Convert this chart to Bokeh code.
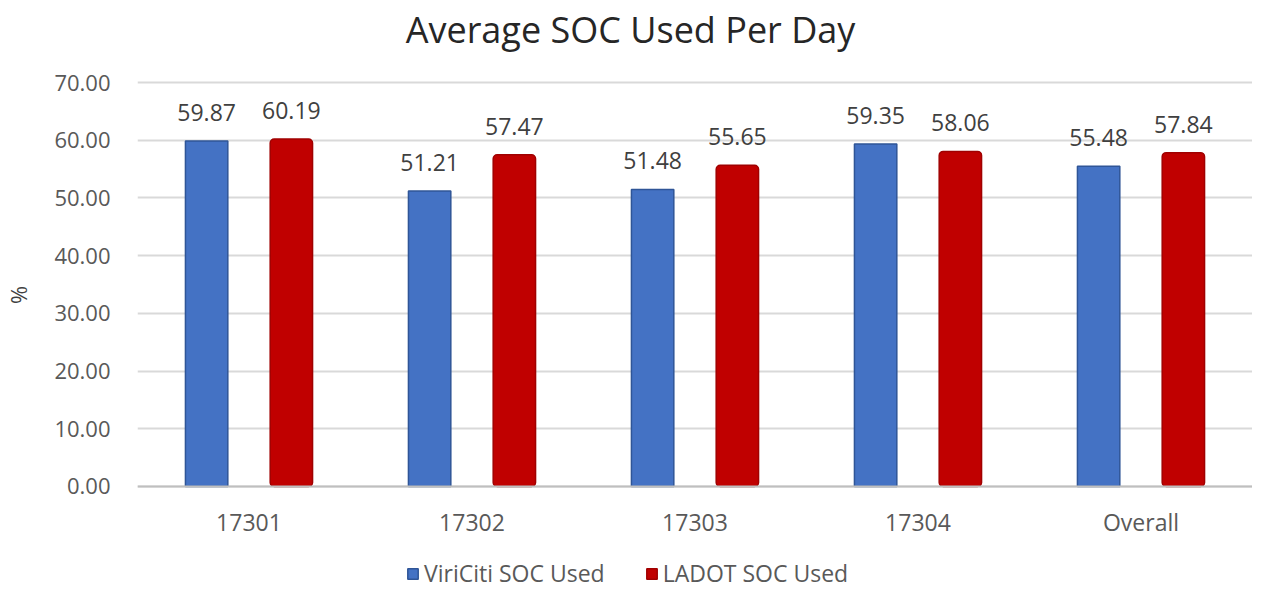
from bokeh.plotting import figure
from bokeh.models import (ColumnDataSource, Range1d, FactorRange, FixedTicker,
                          NumeralTickFormatter, LabelSet, Legend, LegendItem, Label)
from bokeh.core.properties import value
from bokeh.transform import dodge
from bokeh.embed import file_html
from bokeh.resources import INLINE

categories = ["17301", "17302", "17303", "17304", "Overall"]
viriciti = [59.87, 51.21, 51.48, 59.35, 55.48]
ladot = [60.19, 57.47, 55.65, 58.06, 57.84]
y_ticks = [0, 10, 20, 30, 40, 50, 60, 70]
series_names = ["ViriCiti SOC Used", "LADOT SOC Used"]
title_text = "Average SOC Used Per Day"

FONT = "Open Sans"
BLUE, BLUE_EDGE = "#4472C4", "#2F5597"
RED, RED_EDGE = "#C00000", "#A00000"

src = ColumnDataSource(dict(
    cat=categories, v=viriciti, l=ladot,
    vt=[f"{x:.2f}" for x in viriciti], lt=[f"{x:.2f}" for x in ladot],
))

# frame spans full canvas height; 0..70 maps to page y 494..90
p = figure(width=1252, height=589, x_range=FactorRange(*categories),
           y_range=Range1d(-17.85, 84.21), output_backend="svg",
           toolbar_location=None,
           min_border_left=133, min_border_right=0, min_border_top=0,
           min_border_bottom=0)
p.outline_line_color = None

bw = 0.19
r1 = p.vbar(x=dodge("cat", -0.19, range=p.x_range), top="v", bottom=0, width=bw,
            source=src, fill_color=BLUE, line_color=BLUE_EDGE, line_width=1.5)
r2 = p.vbar(x=dodge("cat", 0.19, range=p.x_range), top="l", bottom=0, width=bw,
            source=src, fill_color=RED, line_color=RED_EDGE, line_width=1.5,
            border_radius=4)

for col, off in (("vt", -0.19), ("lt", 0.19)):
    p.add_layout(LabelSet(x=dodge("cat", off, range=p.x_range),
                          y=col[0], text=col, source=src, y_offset=20,
                          text_align="center", text_baseline="alphabetic",
                          text_font=value(FONT), text_font_size="23px",
                          text_color="#404040"))

p.add_layout(Label(x=493, y=560, x_units="screen", y_units="screen",
                   text=title_text, text_align="center", text_baseline="middle",
                   text_font=FONT, text_font_size="36px", text_color="#262626"))

p.yaxis.ticker = FixedTicker(ticks=y_ticks)
p.yaxis.formatter = NumeralTickFormatter(format="0.00")
p.yaxis.axis_line_color = None
p.yaxis.major_tick_line_color = None
p.yaxis.minor_tick_line_color = None
p.yaxis.major_tick_out = 0
p.yaxis.major_label_text_font = FONT
p.yaxis.major_label_text_font_size = "22px"
p.yaxis.major_label_text_color = "#595959"
p.yaxis.major_label_standoff = 27
p.yaxis.axis_label = "%"
p.yaxis.axis_label_text_font = FONT
p.yaxis.axis_label_text_font_size = "22px"
p.yaxis.axis_label_text_font_style = "normal"
p.yaxis.axis_label_text_color = "#404040"
p.yaxis.axis_label_standoff = 18

p.xaxis.fixed_location = 0
p.xaxis.axis_line_color = "#BFBFBF"
p.xaxis.axis_line_width = 2
p.xaxis.major_tick_line_color = None
p.xaxis.minor_tick_line_color = None
p.xaxis.major_tick_out = 0
p.xaxis.major_label_text_font = FONT
p.xaxis.major_label_text_font_size = "23px"
p.xaxis.major_label_text_color = "#595959"
p.xaxis.major_label_standoff = 20

p.xgrid.grid_line_color = None
p.ygrid.ticker = FixedTicker(ticks=y_ticks)
p.ygrid.grid_line_color = "#D9D9D9"
p.ygrid.grid_line_width = 2

legend = Legend(items=[LegendItem(label=series_names[0], renderers=[r1]),
                       LegendItem(label=series_names[1], renderers=[r2])],
                orientation="horizontal", location=(269, 0),
                label_text_font=FONT, label_text_font_size="23px",
                label_text_color="#595959", border_line_color=None,
                background_fill_alpha=0, label_height=20,
                glyph_width=13, glyph_height=13, spacing=40, margin=0,
                padding=0, label_standoff=5)
p.add_layout(legend, "center")

open("out.html", "w").write(file_html(p, INLINE))
